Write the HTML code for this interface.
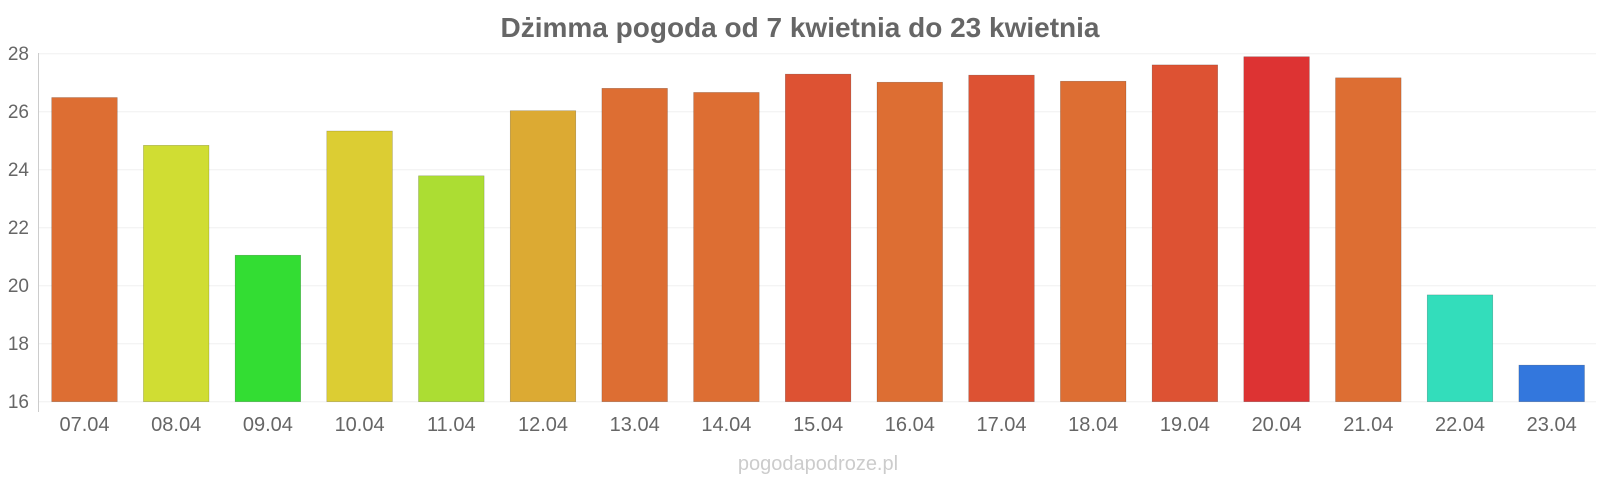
<!DOCTYPE html>
<html><head><meta charset="utf-8"><style>
html,body{margin:0;padding:0;background:#fff;}
svg{display:block;font-family:"Liberation Sans",sans-serif;}
</style></head><body>
<svg width="1600" height="480" xmlns="http://www.w3.org/2000/svg">
<text x="800" y="37" text-anchor="middle" font-size="28" font-weight="bold" fill="#666">Dżimma pogoda od 7 kwietnia do 23 kwietnia</text>
<g stroke="#f0f0f0" stroke-width="1">
<line x1="39" x2="1596" y1="53.7" y2="53.7"/><line x1="39" x2="1596" y1="111.7" y2="111.7"/>
<line x1="39" x2="1596" y1="169.7" y2="169.7"/><line x1="39" x2="1596" y1="227.7" y2="227.7"/>
<line x1="39" x2="1596" y1="285.7" y2="285.7"/><line x1="39" x2="1596" y1="343.7" y2="343.7"/>
<line x1="39" x2="1596" y1="401.7" y2="401.7"/>
</g>
<line x1="38.5" x2="38.5" y1="53" y2="412" stroke="#ccc"/>
<g font-size="19" fill="#666" text-anchor="end">
<text x="29" y="60">28</text><text x="29" y="118">26</text><text x="29" y="176">24</text>
<text x="29" y="234">22</text><text x="29" y="292">20</text><text x="29" y="350">18</text><text x="29" y="408">16</text>
</g>
<g stroke-opacity="0.3" stroke="#000" stroke-width="0.5">
<rect x="51.7" y="97.5" width="65.6" height="304.2" fill="#dd6e33"/>
<rect x="143.4" y="145.3" width="65.6" height="256.4" fill="#d0dd33"/>
<rect x="235.1" y="255.2" width="65.6" height="146.5" fill="#33dd33"/>
<rect x="326.8" y="131" width="65.6" height="270.7" fill="#dccd33"/>
<rect x="418.5" y="175.8" width="65.6" height="225.9" fill="#acdd33"/>
<rect x="510.2" y="110.7" width="65.6" height="291" fill="#dcaa33"/>
<rect x="601.9" y="88.3" width="65.6" height="313.4" fill="#dd6e33"/>
<rect x="693.6" y="92.4" width="65.6" height="309.3" fill="#dd6e33"/>
<rect x="785.3" y="74.1" width="65.6" height="327.6" fill="#dd5233"/>
<rect x="877" y="82.2" width="65.6" height="319.5" fill="#dd6e33"/>
<rect x="968.7" y="75.1" width="65.6" height="326.6" fill="#dd5233"/>
<rect x="1060.4" y="81.2" width="65.6" height="320.5" fill="#dd6e33"/>
<rect x="1152.1" y="64.9" width="65.6" height="336.8" fill="#dd5233"/>
<rect x="1243.8" y="56.7" width="65.6" height="345" fill="#dd3333"/>
<rect x="1335.5" y="77.8" width="65.6" height="323.9" fill="#dd6e33"/>
<rect x="1427.2" y="294.9" width="65.6" height="106.8" fill="#33ddbb"/>
<rect x="1518.9" y="365.1" width="65.6" height="36.6" fill="#3377dd"/>
</g>
<g font-size="20" fill="#666" text-anchor="middle">
<text x="84.5" y="431">07.04</text><text x="176.2" y="431">08.04</text><text x="267.9" y="431">09.04</text>
<text x="359.6" y="431">10.04</text><text x="451.3" y="431">11.04</text><text x="543" y="431">12.04</text>
<text x="634.7" y="431">13.04</text><text x="726.4" y="431">14.04</text><text x="818.1" y="431">15.04</text>
<text x="909.8" y="431">16.04</text><text x="1001.5" y="431">17.04</text><text x="1093.2" y="431">18.04</text>
<text x="1184.9" y="431">19.04</text><text x="1276.6" y="431">20.04</text><text x="1368.3" y="431">21.04</text>
<text x="1460" y="431">22.04</text><text x="1551.7" y="431">23.04</text>
</g>
<text x="818" y="470" text-anchor="middle" font-size="20" fill="#ccc">pogodapodroze.pl</text>
</svg>
</body></html>
